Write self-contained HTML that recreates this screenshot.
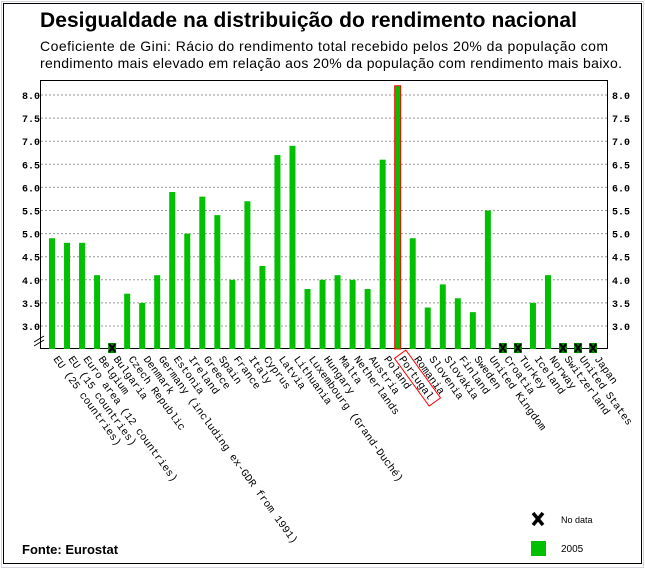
<!DOCTYPE html>
<html><head><meta charset="utf-8"><style>
body{margin:0;background:#fff}
svg{display:block}
</style></head><body>
<svg width="645" height="569" xmlns="http://www.w3.org/2000/svg">
<rect x="1.5" y="1.5" width="642" height="566" fill="#fff" stroke="#aab" stroke-dasharray="1,1"/>
<rect x="3.5" y="3.5" width="638" height="560" fill="none" stroke="#000"/>
<text x="40" y="27" font-family="Liberation Sans, sans-serif" font-size="21" font-weight="bold" textLength="537">Desigualdade na distribuição do rendimento nacional</text>
<text x="40" y="51" font-family="Liberation Sans, sans-serif" font-size="14" textLength="568">Coeficiente de Gini:  Rácio do rendimento total recebido pelos 20% da população com</text>
<text x="40" y="68" font-family="Liberation Sans, sans-serif" font-size="14" textLength="582">rendimento mais elevado em relação aos 20% da população com rendimento mais baixo.</text>
<g id="c"></g>
<text x="22" y="554" font-family="Liberation Sans, sans-serif" font-size="13" font-weight="bold">Fonte: Eurostat</text>
<path d="M533 513 L543 525 M543 513 L533 525" stroke="#000" stroke-width="3.5"/>
<text x="561" y="523" font-family="Liberation Sans, sans-serif" font-size="9">No data</text>
<rect x="531" y="541" width="15" height="15" fill="#00c000"/>
<text x="561" y="552" font-family="Liberation Sans, sans-serif" font-size="10">2005</text>
</svg>
<script>
const g=document.getElementById('c');let s='';
const y=v=>326-(v-3)*46.2;
s+='<rect x="40.5" y="80.5" width="567" height="268" fill="none" stroke="#000"/>';
for(let v=3;v<=8.01;v+=0.5){const yy=y(v);s+=`<line x1="41" x2="607" y1="${yy}" y2="${yy}" stroke="#999" stroke-dasharray="2,2"/>`;
s+=`<text x="22" y="${yy+4}" font-family="Liberation Mono,monospace" font-size="10" font-weight="bold">${v.toFixed(1)}</text>`;
s+=`<text x="612" y="${yy+4}" font-family="Liberation Mono,monospace" font-size="10" font-weight="bold">${v.toFixed(1)}</text>`;}
s+='<path d="M34 342 L44 336 M34 346 L44 340" stroke="#000"/>';
const d=[["EU (25 countries)",4.9],["EU (15 countries)",4.8],["Euro area (12 countries)",4.8],["Belgium",4.1],["Bulgaria",null],["Czech Republic",3.7],["Denmark",3.5],["Germany (including ex-GDR from 1991)",4.1],["Estonia",5.9],["Ireland",5.0],["Greece",5.8],["Spain",5.4],["France",4.0],["Italy",5.7],["Cyprus",4.3],["Latvia",6.7],["Lithuania",6.9],["Luxembourg (Grand-Duché)",3.8],["Hungary",4.0],["Malta",4.1],["Netherlands",4.0],["Austria",3.8],["Poland",6.6],["Portugal",8.2],["Romania",4.9],["Slovenia",3.4],["Slovakia",3.9],["Finland",3.6],["Sweden",3.3],["United Kingdom",5.5],["Croatia",null],["Turkey",null],["Iceland",3.5],["Norway",4.1],["Switzerland",null],["United States",null],["Japan",null]];
d.forEach((e,i)=>{const cx=52+i*15.03;
if(e[1]==null){s+=`<rect x="${cx-4}" y="343" width="8" height="10" fill="#080"/><path d="M${cx-3} 344 L${cx+3} 352 M${cx+3} 344 L${cx-3} 352" stroke="#000" stroke-width="2"/>`;}
else{const yy=y(e[1]);s+=`<rect x="${cx-3}" y="${yy}" width="6" height="${349-yy}" fill="#00c000"${e[0]=='Portugal'?' stroke="#f00" stroke-width="1"':''}/>`;}
s+=`<text transform="translate(${cx+1},359) rotate(54)" font-family="Liberation Mono,monospace" font-size="10.6">${e[0]}</text>`;
if(e[0]=='Portugal')s+=`<rect transform="translate(${cx+1},359) rotate(54)" x="-3" y="-11" width="59" height="14" fill="none" stroke="#f00"/>`;});
g.innerHTML=s;
</script>
</body></html>
